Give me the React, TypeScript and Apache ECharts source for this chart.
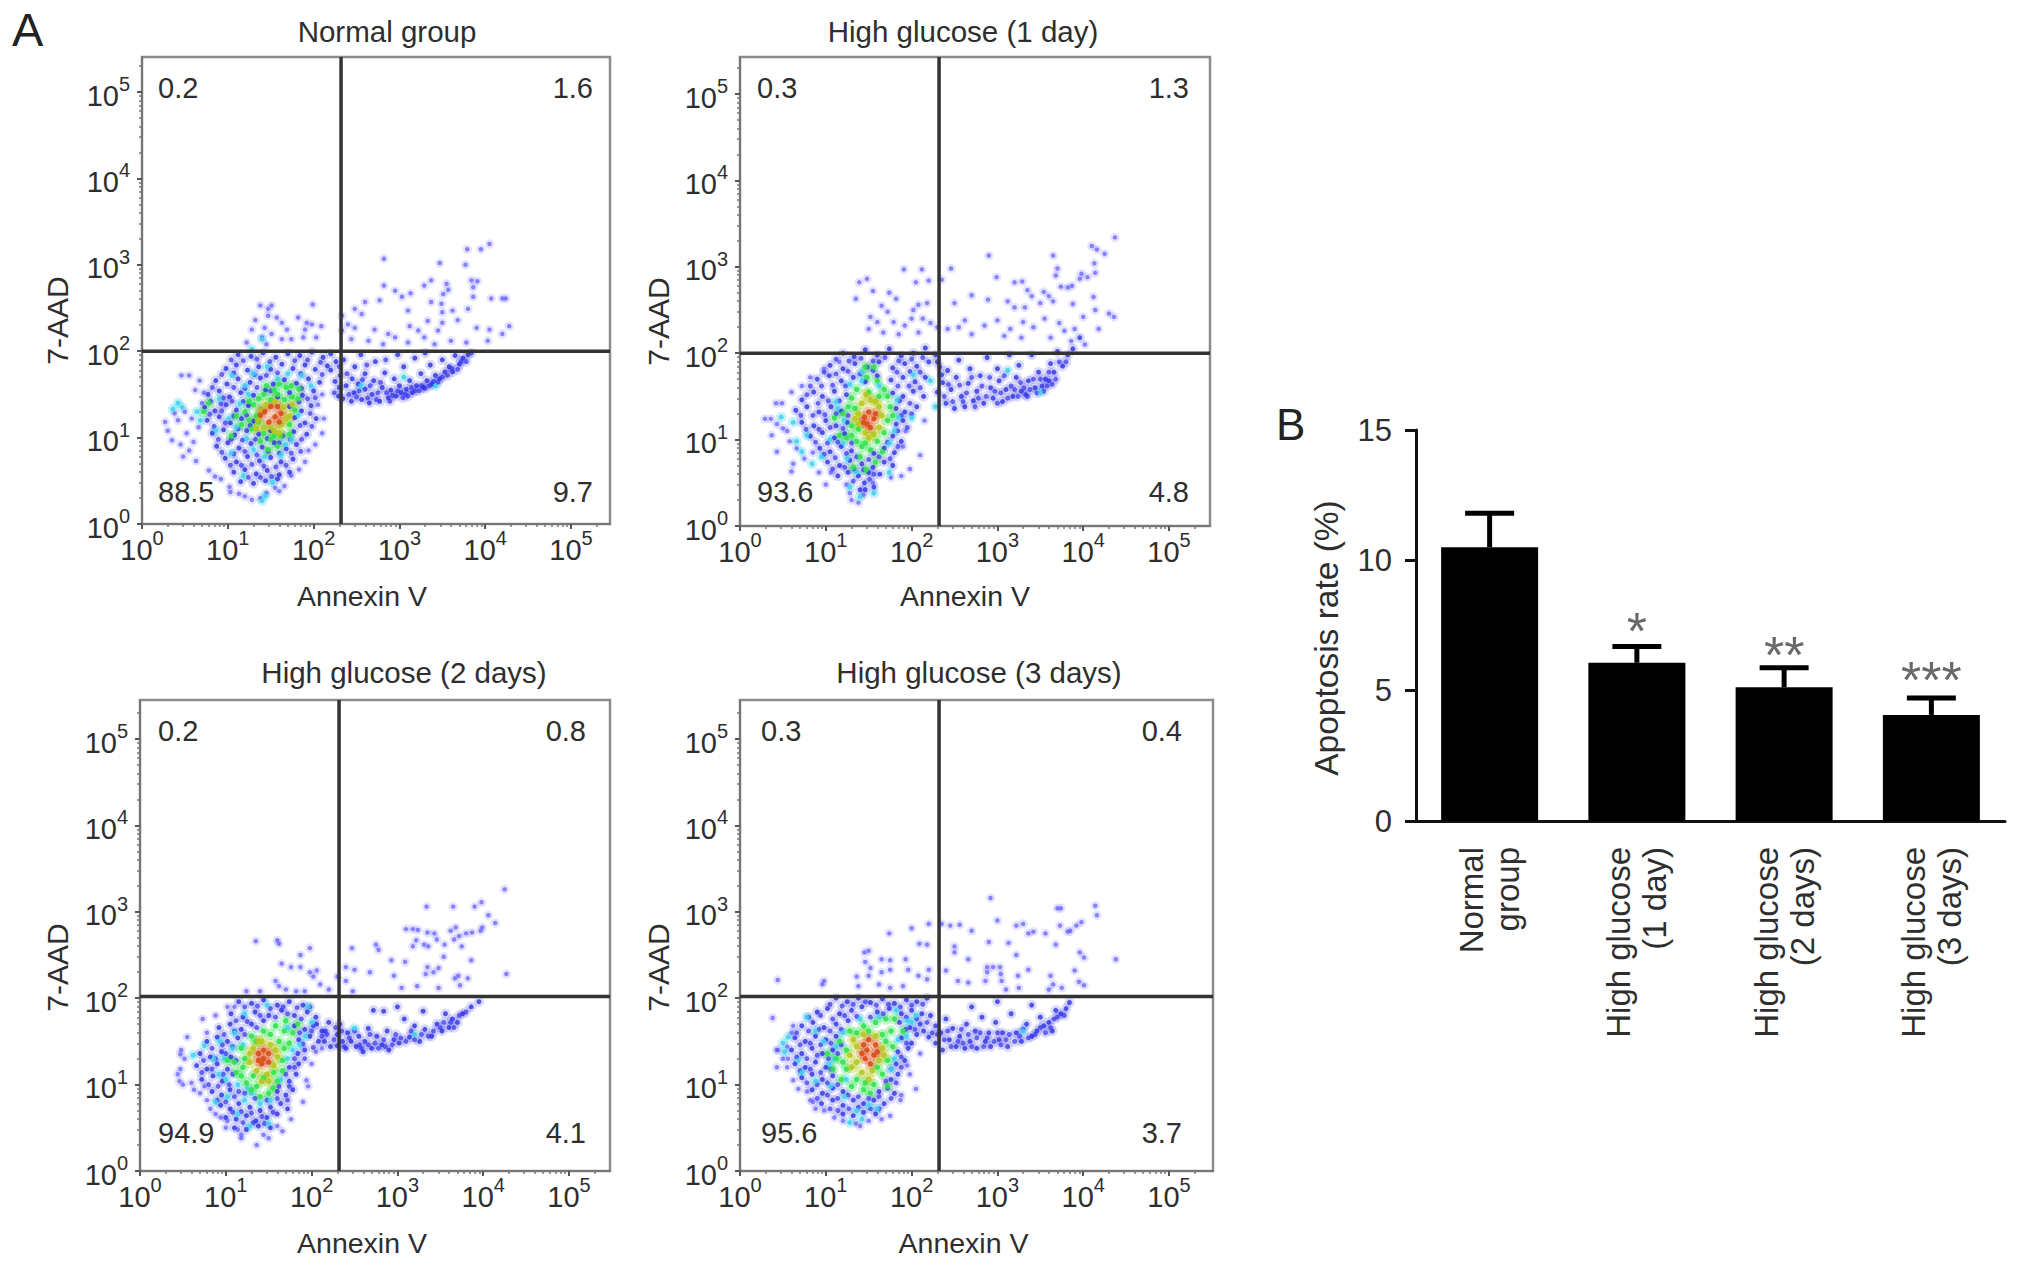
import React, { useEffect, useRef } from "react";
import * as echarts from "echarts";

const FONT = '"Liberation Sans", Arial, sans-serif';
const TEXT = "#2e2e2e";

const groups = ["Normal group", "High glucose (1 day)", "High glucose (2 days)", "High glucose (3 days)"];
const barCategories = ["Normal\ngroup", "High glucose\n(1 day)", "High glucose\n(2 days)", "High glucose\n(3 days)"];
const barMeans = [10.5, 6.07, 5.13, 4.07];
const barUpper = [11.81, 6.69, 5.88, 4.72];
const barStars = ["", "*", "**", "***"];
const barStarY = [0, 7.3, 6.38, 5.42];
const majorTicks = [1, 10, 100, 1000, 10000, 100000];
const minorTicks = [2,3,4,5,6,7,8,9,20,30,40,50,60,70,80,90,200,300,400,500,600,700,800,900,2000,3000,4000,5000,6000,7000,8000,9000,20000,30000,40000,50000,60000,70000,80000,90000,200000];
const quadrants = [["0.2","1.6","88.5","9.7"],["0.3","1.3","93.6","4.8"],["0.2","0.8","94.9","4.1"],["0.3","0.4","95.6","3.7"]];
const gates = [[2.32,2.0],[2.32,2.0],[2.32,2.02],[2.32,2.02]];

// Flow-cytometry dots as log10(Annexin V), log10(7-AAD); a representative sample per density colour.
const p1Sparse = [[2.82,3.07],[4.05,3.24],[3.95,3.18],[3.79,3.18],[3.77,3.0],[3.47,3.02],[2.82,2.76],[3.91,2.81],[3.84,2.82],[3.86,2.74],[3.86,2.63],[4.07,2.61],[4.2,2.61],[4.24,2.61],[3.37,2.82],[3.29,2.76],[3.55,2.78],[3.57,2.71],[3.51,2.66],[2.95,2.7],[3.03,2.63],[3.13,2.67],[2.77,2.59],[2.6,2.57],[3.37,2.57],[3.49,2.55],[3.1,2.47],[2.48,2.49],[2.56,2.43],[3.62,2.47],[3.8,2.49],[3.5,2.45],[4.28,2.29],[4.2,2.2],[4.05,2.25],[3.9,2.27],[3.68,2.36],[3.33,2.35],[3.5,2.33],[1.99,2.54],[1.38,2.53],[1.51,2.53],[1.47,2.49],[1.32,2.36],[1.47,2.41],[1.57,2.39],[1.63,2.33],[1.82,2.39],[1.92,2.33],[1.98,2.31],[2.09,2.29],[2.33,2.41],[1.28,2.25],[1.43,2.27],[1.69,2.25],[1.9,2.25],[1.4,2.16],[1.51,2.2],[1.63,2.14],[1.74,2.14],[1.88,2.16],[2.03,2.16],[1.22,2.1],[1.45,2.08],[2.33,2.24],[2.4,2.31],[2.48,2.27],[2.71,2.25],[2.87,2.2],[2.95,2.16],[3.12,2.29],[3.22,2.24],[3.29,2.16],[3.45,2.24],[2.44,2.14],[2.64,2.12],[2.81,2.08],[3.1,2.1],[3.41,2.08],[3.6,2.12],[3.78,2.1],[4.03,2.12],[.27,1.18],[.3,1.08],[.38,1.28],[.42,1.2],[.5,1.3],[.52,1.05],[.35,.97],[.45,.92],[.55,.85],[.6,.95],[.63,.73],[.48,.78],[.58,1.22],[.66,1.12],[.7,1.4],[.62,1.55],[.55,1.72],[.46,1.72],[.67,1.66],[.72,1.52],[.78,.62],[.85,.55],[.92,.52],[1.02,.43],[1.03,.37],[1.13,.35],[1.2,.32],[1.28,.28],[1.38,.3],[1.45,.36],[1.55,.42],[1.6,.38],[1.66,.44],[1.74,.56],[1.83,.63],[1.9,.72],[1.94,.85],[2.02,.92],[2.1,1.05],[2.12,1.22],[2.05,1.38],[2.1,1.5]];
const p1Blue = [[1.12,1.96],[1.27,1.94],[1.41,1.98],[1.56,1.93],[1.7,1.97],[1.84,1.95],[1.98,1.99],[2.11,1.93],[2.2,1.97],[.98,1.8],[1.1,1.84],[1.23,1.78],[1.36,1.82],[1.5,1.79],[1.63,1.85],[1.76,1.8],[1.9,1.84],[2.02,1.79],[2.16,1.83],[.86,1.66],[.99,1.62],[1.12,1.68],[1.26,1.64],[1.38,1.69],[1.53,1.62],[1.66,1.67],[1.8,1.63],[1.94,1.68],[2.07,1.64],[.77,1.5],[.9,1.54],[1.02,1.47],[1.15,1.52],[1.3,1.49],[1.44,1.55],[1.58,1.47],[1.72,1.52],[1.87,1.49],[2.0,1.54],[.73,1.35],[.85,1.31],[.98,1.38],[1.1,1.32],[1.24,1.37],[1.38,1.33],[1.72,1.36],[1.86,1.31],[1.97,1.37],[.76,1.2],[.9,1.24],[1.03,1.17],[1.16,1.22],[1.3,1.19],[1.78,1.23],[1.9,1.17],[2.03,1.22],[.82,1.05],[.95,1.09],[1.08,1.03],[1.22,1.08],[1.36,1.04],[1.5,1.08],[1.64,1.02],[1.77,1.07],[1.92,1.04],[.87,.9],[1.0,.94],[1.13,.88],[1.27,.93],[1.4,.89],[1.54,.94],[1.68,.87],[1.8,.92],[.97,.76],[1.1,.72],[1.23,.78],[1.37,.73],[1.5,.77],[1.62,.72],[1.76,.75],[1.07,.6],[1.2,.63],[1.33,.58],[1.46,.62],[1.6,.57],[1.72,.6],[1.15,.49],[1.3,.47],[1.44,.5],[1.58,.52],[2.2,1.78],[2.26,1.88],[2.25,1.65],[2.31,1.72],[2.3,1.58],[2.34,1.45],[2.29,1.48],[2.35,1.9],[2.38,1.6],[2.44,1.42],[2.47,1.52],[2.45,1.68],[2.48,1.82],[2.52,1.62],[2.56,1.44],[2.6,1.56],[2.6,1.74],[2.65,1.4],[2.68,1.5],[2.7,1.66],[2.72,1.88],[2.77,1.42],[2.8,1.58],[2.83,1.75],[2.87,1.46],[2.9,1.55],[2.94,1.68],[2.96,1.48],[3.0,1.6],[3.02,1.52],[3.05,1.82],[3.08,1.56],[3.12,1.66],[3.15,1.52],[3.18,1.92],[3.2,1.6],[3.25,1.74],[3.28,1.58],[3.32,1.66],[3.36,1.84],[3.38,1.62],[3.42,1.72],[3.47,1.68],[3.5,1.9],[3.53,1.76],[3.58,1.82],[3.62,1.76],[3.65,1.95],[3.7,1.85],[3.74,1.92],[3.8,1.96],[2.98,1.96],[3.3,1.98],[2.55,1.96]];
const p1Fill = [[1.04,1.9],[1.18,1.89],[1.34,1.91],[1.49,1.88],[1.78,1.89],[1.93,1.9],[2.08,1.87],[.93,1.73],[1.07,1.75],[1.31,1.73],[1.45,1.72],[1.58,1.75],[1.85,1.74],[2.1,1.73],[.82,1.58],[.95,1.46],[1.07,1.58],[1.2,1.57],[1.34,1.58],[1.5,1.54],[1.86,1.57],[2.02,1.46],[.8,1.42],[.92,1.39],[1.05,1.42],[1.18,1.42],[1.93,1.45],[.79,1.27],[.93,1.31],[1.07,1.25],[1.22,1.26],[1.83,1.41],[1.96,1.28],[.84,1.13],[.97,1.17],[1.12,1.1],[1.26,1.14],[1.84,1.14],[1.98,1.13],[.89,.98],[1.04,.98],[1.17,.97],[1.32,.98],[1.46,.99],[1.6,.94],[1.73,.98],[1.86,.98],[.93,.83],[1.07,.81],[1.2,.84],[1.34,.8],[1.47,.84],[1.6,.82],[1.74,.82],[1.85,.84],[1.03,.68],[1.16,.68],[1.28,.69],[1.42,.67],[1.56,.66],[1.68,.68],[1.24,.54],[1.38,.54],[1.51,.55],[2.24,1.52],[2.3,1.82],[2.39,1.74],[2.41,1.5],[2.5,1.47],[2.53,1.54],[2.57,1.67],[2.63,1.46],[2.66,1.6],[2.73,1.44],[2.75,1.52],[2.78,1.64],[2.85,1.52],[2.89,1.42],[2.92,1.49],[2.98,1.54],[3.04,1.46],[3.07,1.5],[3.1,1.48],[3.14,1.58],[3.18,1.54],[3.23,1.54],[3.26,1.6],[3.3,1.57],[3.35,1.6],[3.4,1.65],[3.45,1.64],[3.5,1.7],[3.56,1.72],[3.61,1.8],[3.68,1.79],[3.72,1.88],[3.78,1.88],[3.84,1.98],[2.84,1.9],[2.62,1.84]];
const p1Cyan = [[.42,1.4],[.47,1.35],[.36,1.33],[.64,1.3],[.68,1.2],[.86,1.08],[.9,1.45],[1.05,1.72],[1.2,1.6],[1.28,2.02],[1.4,2.14],[1.3,1.74],[1.04,.82],[1.18,.56],[1.4,.27],[1.44,.33],[1.52,.48],[1.7,1.74],[1.86,1.72],[1.97,1.6],[1.1,1.12],[1.22,.99],[2.55,1.6],[3.05,1.7],[3.42,1.6],[1.74,.98],[1.62,.8],[1.14,1.39],[1.24,1.5],[1.46,1.82],[1.58,1.68],[1.01,1.22],[1.3,.86],[1.43,.78],[1.67,.92],[1.82,1.26]];
const p1Green = [[1.3,1.38],[1.42,1.5],[1.54,1.55],[1.68,1.58],[1.75,1.47],[1.6,1.62],[1.45,1.6],[1.2,1.3],[1.16,1.15],[1.28,1.1],[1.36,1.18],[1.42,1.05],[1.5,.98],[1.38,.96],[1.47,.86],[1.58,.9],[1.62,1.02],[1.72,1.15],[1.78,1.32],[1.72,1.04],[1.1,1.25],[1.25,1.42],[1.33,1.25],[1.82,1.45],[1.36,1.45],[1.5,1.44],[1.66,1.44],[.72,1.3],[.78,1.4],[1.04,1.02],[1.74,1.6],[1.83,1.56],[1.58,1.5],[1.25,1.2],[1.54,1.02]];
const p1Yellow = [[1.35,1.2],[1.38,1.32],[1.44,1.38],[1.55,1.42],[1.65,1.35],[1.72,1.25],[1.62,1.15],[1.5,1.12],[1.42,1.12],[1.68,1.22],[1.6,1.05],[1.33,1.1],[1.54,1.08],[1.75,1.38]];
const p1Red = [[1.43,1.3],[1.5,1.36],[1.58,1.36],[1.62,1.28],[1.55,1.24],[1.48,1.18],[1.6,1.18],[1.38,1.26]];

const p2Sparse = [[2.9,3.13],[4.37,3.34],[4.1,3.24],[4.16,3.2],[4.25,3.15],[3.65,3.13],[4.13,3.04],[3.7,2.98],[3.68,2.9],[2.99,2.88],[3.2,2.82],[3.29,2.83],[3.98,2.92],[4.05,2.88],[4.14,2.93],[3.74,2.77],[3.82,2.76],[3.87,2.78],[3.96,2.86],[3.35,2.73],[3.4,2.66],[3.54,2.71],[3.6,2.66],[4.12,2.65],[2.7,2.67],[2.89,2.62],[3.12,2.6],[3.5,2.58],[3.65,2.6],[3.2,2.53],[3.32,2.53],[3.88,2.57],[4.14,2.5],[4.3,2.46],[4.36,2.42],[2.5,2.58],[1.91,2.97],[2.12,2.97],[2.46,2.98],[2.35,2.85],[2.2,2.84],[2.05,2.82],[1.39,2.82],[1.48,2.86],[1.55,2.72],[1.74,2.7],[1.35,2.63],[1.82,2.63],[2.02,2.5],[2.08,2.56],[2.18,2.58],[1.65,2.55],[1.72,2.48],[2.0,2.4],[1.52,2.42],[1.6,2.36],[1.79,2.36],[1.92,2.32],[2.13,2.4],[2.22,2.35],[1.5,2.28],[1.67,2.24],[1.85,2.22],[2.08,2.24],[2.3,2.3],[2.42,2.28],[2.55,2.3],[2.62,2.38],[2.7,2.22],[2.85,2.32],[3.0,2.38],[3.15,2.28],[3.3,2.36],[3.42,2.3],[3.55,2.4],[3.72,2.35],[3.78,2.26],[3.9,2.28],[4.0,2.42],[4.18,2.28],[3.08,2.2],[3.28,2.18],[3.62,2.18],[3.86,2.14],[4.02,2.1],[.29,1.24],[.36,1.24],[.37,1.05],[.42,1.42],[.43,1.18],[.5,1.13],[.49,1.42],[.43,.86],[.55,1.1],[.6,1.55],[.58,.98],[.66,.9],[.62,.72],[.6,.63],[.72,1.62],[.75,.78],[.85,.85],[.82,1.72],[.92,.62],[.98,1.82],[1.0,.48],[1.06,.62],[1.16,1.9],[1.24,.48],[1.28,.38],[1.3,.3],[1.38,.27],[1.44,.36],[1.55,.5],[1.76,.56],[1.88,.58],[1.98,.66],[2.1,.82],[1.9,.92],[1.93,1.1],[2.15,1.22]];
const p2Blue = [[1.2,2.0],[1.33,1.96],[1.46,2.04],[1.6,1.98],[1.74,2.05],[1.88,1.97],[2.02,2.0],[2.16,2.06],[2.28,1.98],[1.05,1.86],[1.2,1.82],[1.34,1.88],[1.48,1.84],[1.62,1.9],[1.78,1.83],[1.92,1.88],[2.06,1.85],[2.2,1.9],[.9,1.7],[1.04,1.74],[1.18,1.68],[1.32,1.72],[1.46,1.67],[1.6,1.74],[1.76,1.69],[1.9,1.72],[2.04,1.67],[2.16,1.72],[.72,1.46],[.86,1.55],[.96,1.5],[1.1,1.56],[1.24,1.52],[1.78,1.54],[1.9,1.5],[2.02,1.56],[2.14,1.5],[.65,1.34],[.78,1.38],[.92,1.32],[1.06,1.38],[1.18,1.33],[1.82,1.36],[1.92,1.32],[2.06,1.38],[.72,1.2],[.86,1.16],[1.0,1.22],[1.12,1.16],[1.25,1.2],[1.82,1.18],[1.9,1.22],[.82,1.04],[.96,1.08],[1.1,1.02],[1.22,1.07],[1.78,1.04],[1.88,.98],[.93,.9],[1.05,.86],[1.18,.92],[1.3,.87],[1.56,.84],[1.68,.9],[1.8,.85],[1.02,.74],[1.16,.7],[1.28,.76],[1.42,.72],[1.55,.68],[1.68,.74],[1.78,.7],[1.14,.58],[1.26,.62],[1.38,.58],[1.5,.62],[1.63,.6],[1.45,.5],[1.46,.42],[1.56,.45],[1.4,.42],[2.3,1.9],[2.35,1.75],[2.3,1.55],[2.36,1.66],[2.4,1.42],[2.42,1.8],[2.46,1.58],[2.5,1.36],[2.52,1.72],[2.55,1.92],[2.58,1.5],[2.62,1.38],[2.66,1.65],[2.68,1.82],[2.72,1.45],[2.76,1.56],[2.8,1.74],[2.84,1.42],[2.88,1.95],[2.92,1.6],[2.95,1.48],[3.0,1.82],[3.02,1.68],[3.06,1.44],[3.1,1.58],[3.14,1.98],[3.18,1.5],[3.22,1.72],[3.25,1.86],[3.28,1.56],[3.33,1.52],[3.36,1.68],[3.4,1.98],[3.44,1.6],[3.48,1.78],[3.52,1.62],[3.56,1.7],[3.6,1.68],[3.62,1.88],[3.66,1.78],[3.7,2.02],[3.76,1.85],[3.82,1.98],[3.88,2.05],[3.96,2.18]];
const p2Fill = [[1.12,1.93],[1.27,1.91],[1.41,1.94],[1.55,1.91],[1.69,1.95],[1.85,1.91],[2.0,1.93],[2.13,1.95],[.98,1.78],[1.12,1.76],[1.26,1.79],[1.4,1.76],[1.55,1.8],[1.83,1.78],[1.98,1.79],[2.1,1.78],[.82,1.62],[.95,1.62],[1.08,1.63],[1.23,1.62],[1.84,1.62],[1.97,1.62],[2.1,1.6],[.78,1.52],[.91,1.42],[1.03,1.45],[1.16,1.45],[1.86,1.45],[1.98,1.42],[.71,1.28],[.85,1.28],[.99,1.29],[1.12,1.3],[1.26,1.28],[1.88,1.28],[2.0,1.3],[.77,1.12],[.92,1.12],[1.05,1.14],[1.2,1.13],[1.84,1.1],[1.95,1.14],[.88,.97],[1.02,.96],[1.14,.97],[1.3,.96],[1.72,.97],[1.84,.92],[.98,.83],[1.11,.79],[1.24,.84],[1.36,.8],[1.5,.77],[1.62,.8],[1.75,.78],[1.08,.66],[1.22,.68],[1.33,.66],[1.44,.65],[1.56,.6],[1.32,.52],[1.51,.54],[2.33,1.84],[2.38,1.5],[2.43,1.64],[2.48,1.44],[2.56,1.63],[2.6,1.44],[2.64,1.54],[2.7,1.72],[2.74,1.38],[2.78,1.48],[2.82,1.62],[2.87,1.5],[2.91,1.72],[2.97,1.56],[3.0,1.42],[3.04,1.54],[3.08,1.74],[3.12,1.48],[3.16,1.62],[3.2,1.58],[3.24,1.5],[3.27,1.66],[3.31,1.6],[3.35,1.5],[3.38,1.58],[3.42,1.7],[3.46,1.54],[3.5,1.7],[3.54,1.56],[3.58,1.62],[3.6,1.78],[3.64,1.64],[3.68,1.7],[3.72,1.9],[3.8,1.9]];
const p2Cyan = [[.48,1.26],[.62,1.2],[.66,.98],[.72,.86],[.84,.72],[.95,.8],[1.12,1.44],[1.28,1.64],[1.42,1.78],[1.62,1.62],[1.05,1.0],[1.25,.78],[1.36,.62],[1.28,.45],[1.4,.34],[1.56,.38],[1.85,1.26],[2.02,1.75],[2.22,1.68],[2.28,1.38],[2.0,1.25],[.78,1.05],[3.12,1.8],[3.5,1.55],[1.74,.62],[1.14,1.36],[1.21,1.22],[1.2,.96],[1.74,.96],[1.8,1.1],[1.83,1.46],[1.42,1.68]];
const p2Green = [[1.36,1.58],[1.48,1.72],[1.6,1.68],[1.68,1.58],[1.5,1.55],[1.34,1.36],[1.3,1.16],[1.2,1.3],[1.24,1.02],[1.36,.98],[1.46,.96],[1.4,.8],[1.52,.88],[1.6,.98],[1.68,1.08],[1.72,1.22],[1.75,1.38],[1.72,1.5],[1.62,1.5],[1.38,1.12],[1.1,1.25],[1.3,1.48],[1.58,.74],[1.32,.68],[1.47,.65],[1.78,1.28],[1.16,1.05],[1.66,.86],[1.56,1.84],[1.46,1.84],[1.3,1.05],[1.42,.92],[1.26,1.38]];
const p2Yellow = [[1.38,1.3],[1.42,1.42],[1.52,1.46],[1.62,1.38],[1.65,1.28],[1.38,1.18],[1.46,1.08],[1.56,1.06],[1.62,1.14],[1.34,1.24],[1.58,1.44],[1.5,1.02],[1.47,1.52]];
const p2Red = [[1.45,1.26],[1.5,1.32],[1.56,1.24],[1.48,1.18],[1.52,1.14],[1.58,1.3],[1.44,1.2]];

const p3Sparse = [[4.25,3.26],[3.98,3.11],[3.65,3.06],[3.34,3.06],[3.9,3.06],[4.06,2.96],[4.14,2.87],[3.99,2.82],[3.97,2.78],[3.68,2.82],[3.62,2.78],[3.72,2.72],[3.8,2.75],[3.87,2.76],[3.1,2.8],[3.18,2.8],[3.24,2.79],[3.35,2.76],[3.43,2.75],[3.46,2.68],[3.22,2.67],[3.18,2.6],[3.31,2.62],[3.36,2.6],[3.55,2.62],[3.75,2.6],[3.66,2.68],[2.47,2.58],[2.75,2.62],[2.78,2.56],[2.93,2.44],[3.09,2.42],[3.54,2.48],[3.86,2.44],[3.35,2.36],[3.48,2.35],[3.33,2.28],[3.42,2.3],[2.96,2.26],[2.68,2.3],[4.27,2.28],[3.71,2.26],[3.67,2.23],[3.82,2.23],[3.73,2.15],[3.23,2.14],[3.48,2.12],[3.05,2.12],[1.35,2.66],[1.6,2.67],[1.62,2.63],[1.98,2.58],[1.87,2.5],[1.65,2.4],[1.76,2.36],[1.87,2.36],[1.98,2.3],[2.06,2.32],[2.02,2.25],[2.4,2.36],[2.5,2.33],[2.3,2.25],[2.4,2.2],[1.58,2.2],[1.62,2.14],[1.7,2.1],[1.82,2.08],[1.92,2.08],[2.1,2.16],[2.2,2.1],[2.48,2.08],[1.24,2.08],[1.4,2.08],[.47,1.35],[.48,1.4],[.52,1.3],[.44,1.12],[.47,1.18],[.46,1.04],[.5,1.0],[.6,1.02],[.63,.94],[.7,.9],[.75,.98],[.78,.82],[.82,.72],[.88,.66],[.94,.62],[.55,1.55],[.73,1.76],[.78,1.6],[.88,1.8],[1.02,1.9],[1.1,1.9],[1.0,.5],[1.02,.58],[1.14,.48],[1.18,.38],[1.18,.42],[1.36,.3],[1.44,.42],[1.5,.38],[1.6,.52],[1.66,.46],[1.76,.6],[1.9,.8],[1.94,1.05],[1.96,.98],[2.0,1.24],[2.05,1.38],[2.12,1.42]];
const p3Blue = [[1.15,1.96],[1.3,1.94],[1.44,1.98],[1.6,1.92],[1.74,1.96],[1.9,1.92],[1.06,1.82],[1.2,1.78],[1.34,1.84],[1.5,1.8],[1.65,1.86],[1.8,1.8],[1.95,1.84],[2.05,1.78],[.92,1.66],[1.05,1.7],[1.18,1.64],[1.3,1.7],[1.44,1.74],[1.8,1.68],[1.92,1.64],[2.06,1.7],[2.16,1.62],[.78,1.5],[.9,1.55],[1.02,1.5],[1.14,1.54],[1.85,1.52],[1.98,1.56],[2.08,1.5],[.7,1.36],[.82,1.32],[.95,1.38],[1.06,1.32],[1.84,1.36],[1.92,1.4],[.66,1.22],[.78,1.18],[.9,1.24],[1.02,1.18],[1.74,1.2],[1.85,1.24],[.72,1.06],[.85,1.1],[.96,1.04],[1.74,1.04],[1.82,1.12],[.84,.92],[.95,.88],[1.05,.94],[1.6,.92],[1.7,.88],[1.78,.94],[.94,.76],[1.05,.72],[1.15,.78],[1.28,.74],[1.4,.7],[1.52,.74],[1.64,.78],[1.72,.72],[1.0,.62],[1.12,.6],[1.24,.64],[1.35,.58],[1.48,.62],[1.6,.66],[1.1,.5],[1.24,.48],[1.38,.52],[1.52,.5],[2.12,1.62],[2.2,1.72],[2.15,1.5],[2.22,1.44],[2.3,1.58],[2.3,1.45],[2.33,1.7],[2.36,1.5],[2.4,1.42],[2.42,1.6],[2.46,1.5],[2.52,1.44],[2.55,1.56],[2.6,1.38],[2.62,1.5],[2.66,1.65],[2.7,1.42],[2.76,1.56],[2.82,1.46],[2.88,1.62],[2.9,1.4],[2.96,1.52],[3.02,1.48],[3.08,1.76],[3.14,1.55],[3.2,1.68],[3.26,1.5],[3.32,1.64],[3.4,1.56],[3.46,1.7],[3.52,1.62],[3.56,1.82],[3.6,1.66],[3.64,1.76],[3.7,1.72],[3.76,1.82],[3.86,1.9],[3.95,1.96],[3.3,1.85],[3.0,1.9],[2.72,1.86],[2.84,1.85]];
const p3Fill = [[1.22,1.9],[1.37,1.91],[1.52,1.88],[1.67,1.9],[1.83,1.89],[1.98,1.9],[1.12,1.74],[1.25,1.73],[1.4,1.8],[1.58,1.78],[1.72,1.82],[1.88,1.76],[2.02,1.68],[.98,1.58],[1.1,1.62],[1.22,1.58],[1.36,1.66],[1.86,1.6],[2.0,1.62],[2.12,1.56],[.84,1.42],[.96,1.46],[1.08,1.44],[1.9,1.47],[2.02,1.43],[.74,1.28],[.88,1.3],[1.0,1.36],[1.12,1.28],[1.8,1.3],[1.92,1.3],[.72,1.14],[.84,1.18],[.97,1.12],[1.08,1.12],[1.7,1.12],[1.8,1.2],[.8,1.0],[.91,.98],[1.04,1.0],[1.15,.92],[1.62,.98],[1.74,.98],[.9,.82],[1.0,.8],[1.1,.86],[1.22,.9],[1.34,.84],[1.48,.82],[1.6,.84],[1.72,.82],[1.08,.68],[1.18,.69],[1.3,.67],[1.42,.63],[1.55,.68],[1.2,.56],[1.32,.56],[1.45,.55],[2.18,1.58],[2.26,1.52],[2.28,1.66],[2.35,1.62],[2.38,1.44],[2.44,1.54],[2.5,1.62],[2.56,1.46],[2.58,1.42],[2.66,1.46],[2.68,1.58],[2.74,1.48],[2.78,1.42],[2.84,1.52],[2.86,1.44],[2.94,1.46],[2.98,1.58],[3.04,1.54],[3.1,1.5],[3.16,1.62],[3.2,1.52],[3.28,1.58],[3.36,1.56],[3.42,1.62],[3.5,1.66],[3.54,1.72],[3.62,1.72],[3.66,1.66],[3.72,1.8],[3.8,1.84]];
const p3Cyan = [[.62,1.34],[.75,1.45],[.86,1.3],[.92,1.12],[1.0,1.06],[1.14,1.0],[1.22,.82],[1.3,.9],[1.4,.78],[1.14,.66],[1.28,.52],[1.64,1.06],[1.72,1.3],[1.86,1.46],[2.0,1.72],[1.96,1.9],[1.48,1.92],[1.02,.86],[1.08,1.42],[1.22,1.82],[.98,1.3],[.88,.8],[1.5,.55],[3.2,1.58],[2.5,1.65],[1.1,1.6],[1.2,1.46],[1.25,.96],[1.52,.82],[1.78,1.4],[1.93,1.56],[1.72,1.66],[.93,1.5]];
const p3Green = [[1.18,1.42],[1.3,1.56],[1.44,1.62],[1.58,1.68],[1.7,1.74],[1.78,1.6],[1.62,1.5],[1.68,1.42],[1.1,1.26],[1.12,1.14],[1.24,1.02],[1.36,.98],[1.5,.9],[1.44,1.08],[1.6,1.04],[1.66,1.16],[1.55,.96],[1.2,1.2],[1.52,1.58],[1.74,1.48],[1.4,.86],[1.56,1.14],[1.32,1.1],[1.84,1.7],[1.22,1.3],[1.02,1.28],[1.35,1.5],[1.68,1.62],[1.18,1.1],[1.3,.94],[1.66,1.28]];
const p3Yellow = [[1.32,1.42],[1.42,1.5],[1.52,1.46],[1.28,1.26],[1.36,1.16],[1.48,1.12],[1.56,1.22],[1.6,1.32],[1.5,1.04],[1.58,1.4],[1.42,1.04],[1.28,1.36],[1.38,1.5]];
const p3Red = [[1.38,1.36],[1.44,1.3],[1.5,1.36],[1.42,1.24],[1.5,1.26],[1.44,1.4],[1.38,1.28]];

const p4Sparse = [[2.92,3.16],[3.7,3.04],[3.74,3.04],[4.14,3.07],[4.16,2.96],[3.0,2.9],[3.22,2.84],[3.3,2.86],[3.73,2.84],[3.92,2.84],[3.98,2.88],[3.85,2.78],[3.82,2.77],[3.36,2.75],[3.42,2.77],[3.56,2.75],[2.7,2.78],[2.45,2.84],[2.35,2.86],[2.56,2.85],[2.2,2.86],[2.0,2.81],[1.74,2.75],[2.18,2.62],[2.09,2.63],[2.5,2.6],[2.9,2.65],[3.13,2.64],[3.68,2.62],[2.5,2.53],[3.22,2.5],[4.38,2.45],[3.96,2.53],[4.01,2.47],[2.66,2.45],[1.45,2.53],[1.5,2.55],[1.46,2.42],[1.93,2.45],[1.65,2.45],[1.75,2.44],[2.88,2.36],[2.95,2.36],[3.03,2.36],[3.04,2.28],[2.88,2.3],[2.4,2.32],[3.9,2.32],[3.36,2.33],[1.52,2.35],[1.65,2.3],[1.75,2.33],[1.96,2.33],[2.2,2.33],[3.24,2.26],[2.54,2.2],[2.66,2.18],[3.05,2.2],[2.86,2.2],[3.62,2.26],[3.65,2.16],[3.95,2.19],[4.01,2.15],[.44,2.21],[.98,2.2],[.96,2.16],[1.36,2.25],[1.5,2.26],[1.38,2.14],[1.62,2.16],[1.75,2.12],[1.9,2.14],[2.08,2.26],[2.18,2.22],[3.1,2.1],[3.25,2.12],[3.6,2.1],[3.75,2.12],[.38,1.77],[.44,1.4],[.43,1.2],[.43,1.4],[.5,1.3],[.55,1.44],[.56,1.3],[.55,1.2],[.6,1.6],[.62,1.68],[.62,1.05],[.68,.95],[.78,.92],[.82,.82],[.88,.72],[.85,.8],[.98,.7],[1.1,.62],[1.2,.58],[1.35,.55],[1.4,.52],[1.5,.58],[1.65,.6],[1.75,.64],[1.87,.82],[1.88,.88],[2.05,.95],[1.98,1.12],[2.1,1.36],[1.95,1.22]];
const p4Blue = [[1.12,2.0],[1.25,1.96],[1.38,2.0],[1.52,1.95],[1.66,1.99],[1.8,1.94],[1.94,1.98],[2.06,1.96],[2.18,2.0],[.9,1.84],[1.02,1.88],[1.16,1.82],[1.3,1.86],[1.42,1.9],[1.6,1.84],[1.74,1.88],[1.88,1.82],[2.0,1.86],[2.12,1.82],[.72,1.68],[.85,1.72],[.98,1.66],[1.12,1.7],[1.26,1.74],[1.86,1.72],[1.98,1.66],[2.1,1.7],[.64,1.54],[.76,1.5],[.88,1.56],[1.0,1.52],[1.12,1.56],[1.88,1.54],[2.0,1.48],[2.06,1.58],[.6,1.4],[.72,1.36],[.84,1.42],[.96,1.36],[1.08,1.4],[1.84,1.38],[1.96,1.42],[.64,1.24],[.76,1.2],[.88,1.26],[1.0,1.2],[1.82,1.24],[1.92,1.28],[.72,1.08],[.84,1.12],[.96,1.06],[1.08,1.1],[1.76,1.06],[1.84,1.12],[.84,.94],[.96,.9],[1.08,.96],[1.2,.92],[1.62,.92],[1.72,.96],[1.8,.9],[.95,.78],[1.08,.82],[1.2,.76],[1.32,.82],[1.44,.78],[1.56,.82],[1.68,.78],[1.2,.66],[1.32,.64],[1.44,.68],[1.58,.66],[2.14,1.62],[2.22,1.8],[2.2,1.55],[2.28,1.68],[2.28,1.48],[2.34,1.6],[2.36,1.4],[2.4,1.76],[2.44,1.52],[2.48,1.65],[2.52,1.44],[2.56,1.56],[2.62,1.42],[2.64,1.7],[2.68,1.5],[2.74,1.62],[2.76,1.42],[2.82,1.78],[2.86,1.5],[2.9,1.6],[2.92,1.44],[2.98,1.72],[3.02,1.52],[3.06,1.6],[3.12,1.44],[3.16,1.82],[3.22,1.6],[3.28,1.5],[3.34,1.7],[3.4,1.56],[3.46,1.62],[3.5,1.78],[3.54,1.68],[3.6,1.72],[3.64,1.62],[3.68,1.86],[3.74,1.82],[3.84,1.95],[3.8,1.88],[3.4,1.92],[2.7,1.9],[3.0,1.96]];
const p4Fill = [[1.05,1.93],[1.19,1.91],[1.32,1.93],[1.46,1.96],[1.59,1.92],[1.73,1.93],[1.87,1.9],[2.0,1.92],[2.13,1.93],[.8,1.78],[.94,1.8],[1.08,1.76],[1.22,1.8],[1.36,1.79],[1.52,1.78],[1.67,1.82],[1.94,1.78],[2.06,1.76],[.66,1.6],[.8,1.62],[.92,1.64],[1.05,1.62],[1.18,1.64],[1.93,1.64],[2.04,1.64],[.7,1.46],[.82,1.48],[.94,1.46],[1.06,1.48],[1.18,1.46],[1.94,1.48],[.66,1.32],[.78,1.3],[.9,1.34],[1.03,1.3],[1.14,1.36],[1.88,1.32],[.7,1.16],[.82,1.18],[.94,1.14],[1.06,1.18],[1.76,1.18],[1.88,1.2],[.78,1.02],[.9,1.0],[1.02,1.02],[1.14,1.0],[1.7,1.04],[1.82,1.02],[.9,.84],[1.02,.88],[1.14,.84],[1.26,.88],[1.38,.86],[1.5,.84],[1.62,.86],[1.76,.84],[1.05,.72],[1.14,.7],[1.27,.72],[1.38,.74],[1.52,.72],[1.62,.72],[2.18,1.72],[2.24,1.6],[2.3,1.58],[2.38,1.52],[2.42,1.62],[2.46,1.44],[2.54,1.5],[2.58,1.64],[2.6,1.48],[2.66,1.58],[2.7,1.44],[2.76,1.54],[2.8,1.6],[2.84,1.44],[2.88,1.54],[2.96,1.5],[3.0,1.6],[3.04,1.46],[3.1,1.52],[3.14,1.58],[3.2,1.5],[3.26,1.56],[3.3,1.64],[3.36,1.54],[3.44,1.58],[3.5,1.66],[3.56,1.6],[3.62,1.66],[3.66,1.76],[3.7,1.78],[3.78,1.8]];
const p4Cyan = [[.5,1.48],[.56,1.55],[.52,1.38],[.68,1.28],[.72,1.14],[.88,1.04],[.98,1.5],[1.1,1.3],[1.2,1.6],[1.4,1.76],[1.62,1.78],[1.82,1.86],[1.95,1.74],[.88,1.62],[1.06,.98],[1.22,.86],[1.36,.7],[1.28,.56],[1.42,.6],[1.6,.72],[1.76,1.18],[1.94,1.56],[2.0,1.72],[2.05,1.8],[3.3,1.62],[.78,1.78],[1.12,1.44],[1.24,1.06],[1.5,.76],[1.8,1.3],[1.84,1.52],[1.04,1.24]];
const p4Green = [[1.16,1.5],[1.28,1.62],[1.44,1.68],[1.58,1.72],[1.7,1.76],[1.76,1.62],[1.66,1.58],[1.78,1.44],[1.12,1.3],[1.08,1.18],[1.18,1.06],[1.3,.98],[1.44,.94],[1.56,1.0],[1.66,1.12],[1.72,1.28],[1.24,1.4],[1.36,1.6],[1.52,.9],[1.36,1.06],[1.8,1.76],[1.9,1.62],[1.02,1.36],[1.6,1.2],[1.2,1.26],[1.72,.98],[1.5,1.62],[1.24,1.18],[1.7,1.5],[1.46,1.02]];
const p4Yellow = [[1.32,1.52],[1.44,1.58],[1.58,1.56],[1.66,1.42],[1.28,1.34],[1.3,1.2],[1.42,1.14],[1.54,1.16],[1.62,1.28],[1.36,1.44],[1.5,1.06],[1.68,1.34],[1.36,1.26]];
const p4Red = [[1.44,1.46],[1.5,1.52],[1.58,1.46],[1.48,1.4],[1.56,1.34],[1.46,1.3],[1.52,1.24],[1.42,1.36],[1.6,1.38]];

const layerStyles = [
  { c: "#5f58ff", s: 4.5, o: 0.7 },
  { c: "#2226e2", s: 5, o: 0.75 },
  { c: "#2f2eea", s: 5, o: 0.68 },
  { c: "#3ed0ee", s: 5, o: 0.85 },
  { c: "#2ee24c", s: 5.5, o: 0.88 },
  { c: "#b6c81e", s: 6, o: 0.9 },
  { c: "#d9501c", s: 5.5, o: 0.95 },
];
const panelLayers = [
  [p1Sparse, p1Blue, p1Fill, p1Cyan, p1Green, p1Yellow, p1Red],
  [p2Sparse, p2Blue, p2Fill, p2Cyan, p2Green, p2Yellow, p2Red],
  [p3Sparse, p3Blue, p3Fill, p3Cyan, p3Green, p3Yellow, p3Red],
  [p4Sparse, p4Blue, p4Fill, p4Cyan, p4Green, p4Yellow, p4Red],
];

const frames = [
  { l: 142, t: 57, w: 468, h: 467, tx: 387, ty: 16, nx: 14, ny: 30, yg: 70, q: [158, 593, 88, 492] },
  { l: 740, t: 57, w: 470, h: 469, tx: 963, ty: 16, nx: 10, ny: 30, yg: 67, q: [757, 1189, 88, 492] },
  { l: 140, t: 700, w: 470, h: 471, tx: 404, ty: 657, nx: 13, ny: 32, yg: 68, q: [158, 586, 731, 1133] },
  { l: 740, t: 700, w: 473, h: 471, tx: 979, ty: 657, nx: 13, ny: 32, yg: 67, q: [761, 1182, 731, 1133] },
];

const supLabel = (v: number) => `{b|10}{s|${Math.round(Math.log10(v))}}`;
const rich = {
  b: { fontSize: 29, lineHeight: 36, fontFamily: FONT, color: TEXT, verticalAlign: "bottom" },
  s: { fontSize: 20, lineHeight: 36, fontFamily: FONT, color: TEXT, verticalAlign: "top" },
};

function buildOption() {
  const grid: any[] = [], xAxis: any[] = [], yAxis: any[] = [], series: any[] = [], graphic: any[] = [];
  const title: any[] = [
    { text: "A", left: 12, top: 6, padding: 0, textStyle: { fontSize: 47, fontWeight: "normal", fontFamily: FONT, color: "#222" } },
    { text: "B", left: 1276, top: 402, padding: 0, textStyle: { fontSize: 44, fontWeight: "normal", fontFamily: FONT, color: "#222" } },
  ];
  frames.forEach((f, i) => {
    grid.push({ left: f.l, top: f.t, width: f.w, height: f.h, show: true, borderColor: "#8c8c8c", borderWidth: 2.5, backgroundColor: "#fff" });
    title.push({ text: groups[i], left: f.tx, top: f.ty, textAlign: "center", padding: 0, textStyle: { fontSize: 29.5, fontWeight: "normal", fontFamily: FONT, color: TEXT } });
    const maxX = Math.pow(10, f.w / 85.8), maxY = Math.pow(10, f.h / 86.4);
    const axisCommon = { type: "log", logBase: 10, gridIndex: i, splitLine: { show: false }, minorTick: { show: false } };
    xAxis.push({ ...axisCommon, min: 1, max: maxX, position: "bottom", name: "Annexin V", nameLocation: "middle", nameGap: i === 1 ? 55 : 57,
      nameTextStyle: { fontSize: 28.5, fontFamily: FONT, color: TEXT, padding: [0, f.nx * 2, 0, 0] },
      axisLine: { show: true, lineStyle: { color: "#777", width: 2 } },
      axisTick: { show: true, length: 5, customValues: majorTicks, lineStyle: { color: "#555", width: 2 } },
      axisLabel: { show: true, margin: 4, customValues: majorTicks, formatter: supLabel, rich } });
    xAxis.push({ ...axisCommon, min: 1, max: maxX, position: "bottom", axisLine: { show: false },
      axisTick: { show: true, length: 3, customValues: minorTicks, lineStyle: { color: "#777", width: 1.5 } }, axisLabel: { show: false } });
    yAxis.push({ ...axisCommon, min: 1, max: maxY, position: "left", name: "7-AAD", nameLocation: "middle", nameGap: f.yg,
      nameTextStyle: { fontSize: 30, fontFamily: FONT, color: TEXT, padding: [0, f.ny * 2, 0, 0] },
      axisLine: { show: true, lineStyle: { color: "#777", width: 2 } },
      axisTick: { show: true, length: 5, customValues: majorTicks, lineStyle: { color: "#555", width: 2 } },
      axisLabel: { show: true, margin: 12, customValues: majorTicks, formatter: supLabel, rich } });
    yAxis.push({ ...axisCommon, min: 1, max: maxY, position: "left", axisLine: { show: false },
      axisTick: { show: true, length: 3, customValues: minorTicks, lineStyle: { color: "#777", width: 1.5 } }, axisLabel: { show: false } });
    const xi = i * 2, yi = i * 2;
    panelLayers[i].forEach((pts, k) => {
      const ly = layerStyles[k];
      const data = pts.map(([a, b]) => [Math.pow(10, a), Math.pow(10, b)]);
      // soft halo under each dot: the reference's dots are blurred by its resolution
      series.push({ type: "scatter", xAxisIndex: xi, yAxisIndex: yi, silent: true, symbolSize: ly.s * 2.1, z: 1 + k * 0.01,
        itemStyle: { color: ly.c, opacity: k < 3 ? 0.16 : 0.3 }, data });
      series.push({ type: "scatter", xAxisIndex: xi, yAxisIndex: yi, silent: true, symbolSize: ly.s, z: 2 + k * 0.01,
        itemStyle: { color: ly.c, opacity: ly.o }, data });
    });
    const gx = Math.pow(10, gates[i][0]), gy = Math.pow(10, gates[i][1]);
    const gateLine = (data: number[][]) => ({ type: "line", xAxisIndex: xi, yAxisIndex: yi, silent: true, symbol: "none", lineStyle: { color: "#333", width: 3.5 }, data, z: 5 });
    series.push(gateLine([[gx, 1], [gx, maxY]]));
    series.push(gateLine([[1, gy], [maxX, gy]]));
    const [qa, qb, qc, qd] = f.q;
    const qt = (text: string, x: number, y: number, align: string) => ({ type: "text", x, y, z: 10, style: { text, fontSize: 29, fontFamily: FONT, fill: TEXT, align, verticalAlign: "middle" } });
    graphic.push(qt(quadrants[i][0], qa, qc, "left"), qt(quadrants[i][1], qb, qc, "right"), qt(quadrants[i][2], qa, qd, "left"), qt(quadrants[i][3], qb, qd, "right"));
  });

  // Panel B
  grid.push({ left: 1416, top: 430, width: 589, height: 391 });
  const gi = frames.length;
  xAxis.push({ type: "category", gridIndex: gi, data: barCategories, position: "bottom",
    axisLine: { lineStyle: { color: "#111", width: 3 } }, axisTick: { alignWithLabel: true, length: 11, lineStyle: { color: "#111", width: 3.5 } },
    axisLabel: { rotate: 90, margin: 26, interval: 0, fontSize: 33, lineHeight: 36, fontFamily: FONT, color: TEXT, align: "right", verticalAlign: "middle" } });
  yAxis.push({ type: "value", gridIndex: gi, min: 0, max: 15, interval: 5, position: "left", splitLine: { show: false },
    name: "Apoptosis rate (%)", nameLocation: "middle", nameGap: 73, nameTextStyle: { fontSize: 33.5, fontFamily: FONT, color: TEXT, padding: [0, 25, 0, 0] },
    axisLine: { show: true, lineStyle: { color: "#111", width: 3 } }, axisTick: { show: true, length: 11, lineStyle: { color: "#111", width: 3 } },
    axisLabel: { margin: 24, fontSize: 31, fontFamily: FONT, color: TEXT } });
  const bi = frames.length * 2;
  series.push({ type: "bar", xAxisIndex: bi, yAxisIndex: bi, barWidth: 97, silent: true, itemStyle: { color: "#000" }, data: barMeans });
  series.push({ type: "custom", xAxisIndex: bi, yAxisIndex: bi, silent: true, z: 3,
    data: barMeans.map((m, k) => [k, m, barUpper[k]]),
    renderItem: (_p: any, api: any) => {
      const base = api.coord([api.value(0), api.value(1)]);
      const top = api.coord([api.value(0), api.value(2)]);
      const st = { stroke: "#000", lineWidth: 5 };
      return { type: "group", children: [
        { type: "line", shape: { x1: base[0], y1: base[1], x2: top[0], y2: top[1] }, style: st },
        { type: "line", shape: { x1: top[0] - 24.5, y1: top[1], x2: top[0] + 24.5, y2: top[1] }, style: st },
      ] };
    } });
  series.push({ type: "scatter", xAxisIndex: bi, yAxisIndex: bi, silent: true, symbolSize: 0,
    data: barStars.map((s, k) => ({ value: [k, barStarY[k]], label: { show: !!s, formatter: s, position: "inside", fontSize: 52, fontFamily: FONT, color: "#444" } })) });
  return { animation: false, backgroundColor: "#fff", title, grid, xAxis, yAxis, series, graphic };
}

export default function App() {
  const ref = useRef<HTMLDivElement>(null);
  useEffect(() => {
    document.body.style.margin = "0";
    const chart = echarts.init(ref.current!, undefined, { renderer: "svg" });
    chart.setOption(buildOption() as any);
    return () => chart.dispose();
  }, []);
  return <div ref={ref} style={{ width: 2032, height: 1263 }} />;
}
